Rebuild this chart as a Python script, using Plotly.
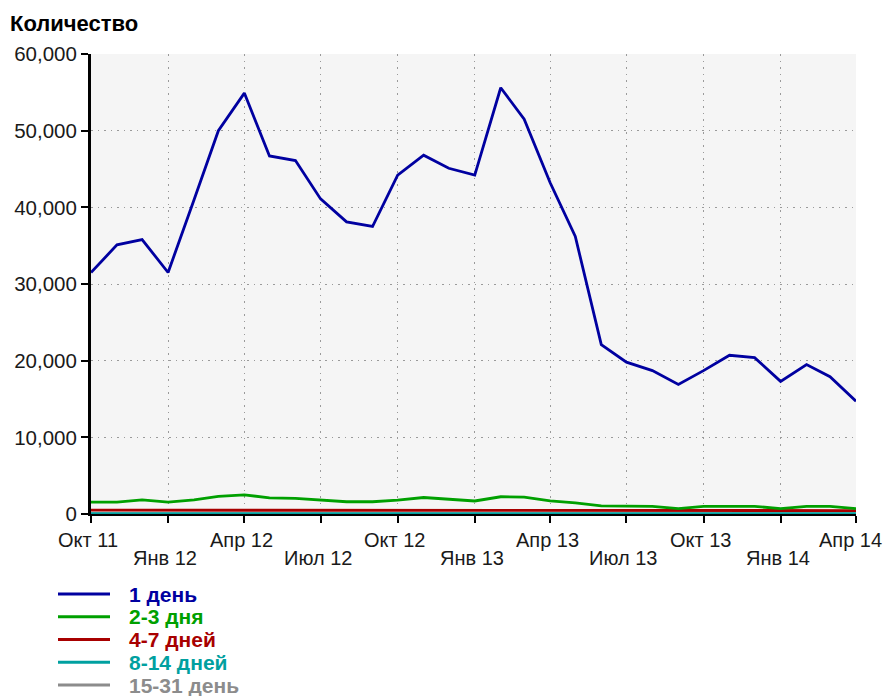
import plotly.graph_objects as go

# Monthly counts, October 2011 - April 2014
months = [
    "2011-10-01", "2011-11-01", "2011-12-01",
    "2012-01-01", "2012-02-01", "2012-03-01", "2012-04-01", "2012-05-01", "2012-06-01",
    "2012-07-01", "2012-08-01", "2012-09-01", "2012-10-01", "2012-11-01", "2012-12-01",
    "2013-01-01", "2013-02-01", "2013-03-01", "2013-04-01", "2013-05-01", "2013-06-01",
    "2013-07-01", "2013-08-01", "2013-09-01", "2013-10-01", "2013-11-01", "2013-12-01",
    "2014-01-01", "2014-02-01", "2014-03-01", "2014-04-01",
]

day_1 = [31500, 35100, 35800, 31500, 41000, 50000, 54900, 46700, 46100, 41100, 38100,
         37500, 44200, 46800, 45100, 44200, 55600, 51500, 43200, 36200, 22100, 19800,
         18700, 16900, 18700, 20700, 20400, 17300, 19500, 17900, 14700]
days_2_3 = [1550, 1550, 1850, 1550, 1850, 2300, 2500, 2100, 2050, 1850, 1600, 1600,
            1800, 2150, 1900, 1700, 2250, 2200, 1700, 1450, 1050, 1000, 1000, 700,
            1000, 1000, 1000, 700, 1000, 1000, 700]
days_4_7 = [500, 500, 500, 500, 500, 500, 500, 500, 500, 500, 500, 500, 500, 500, 500,
            500, 500, 500, 500, 480, 460, 450, 450, 450, 450, 450, 450, 450, 450, 450, 450]
days_8_14 = [40] * 31
days_15_31 = [15] * 31

series_names = ["1 день", "2-3 дня", "4-7 дней", "8-14 дней", "15-31 день"]
series_values = [day_1, days_2_3, days_4_7, days_8_14, days_15_31]
series_colors = ["#0000A0", "#00A000", "#A80000", "#00A0A0", "#8C8C8C"]

# Quarter ticks: labels alternate between two rows
quarter_ticks = ["2011-10-01", "2012-01-01", "2012-04-01", "2012-07-01", "2012-10-01",
                 "2013-01-01", "2013-04-01", "2013-07-01", "2013-10-01", "2014-01-01",
                 "2014-04-01"]
quarter_labels = ["Окт 11", "Янв 12", "Апр 12", "Июл 12", "Окт 12", "Янв 13",
                  "Апр 13", "Июл 13", "Окт 13", "Янв 14", "Апр 14"]

W, H = 885, 696
ML, MR, MT, MB = 91, 29, 54, 182
PW, PH = W - ML - MR, H - MT - MB

FONT = "Liberation Sans, Arial, sans-serif"

fig = go.Figure()
# faint series first so the main ones sit on top
order = [4, 3, 2, 1, 0]
for i in order:
    fig.add_trace(go.Scatter(
        x=months, y=series_values[i], name=series_names[i], mode="lines",
        line=dict(color=series_colors[i], width=2.8), showlegend=False,
    ))

annotations = []
# two-row quarter labels under the x axis; the last one is kept inside the page
last = len(quarter_ticks) - 1
for k, (tv, tl) in enumerate(zip(quarter_ticks, quarter_labels)):
    shift = -26 if k % 2 == 0 else -44
    if k == last:
        anchor, xs = "right", MR - 1
    else:
        anchor, xs = "center", -3
    annotations.append(dict(
        x=tv, xref="x", y=0, yref="paper", yshift=shift, xshift=xs, yanchor="middle",
        xanchor=anchor, text=tl, showarrow=False,
        font=dict(family=FONT, size=20, color="#1a1a1a"),
    ))

# legend below the chart
shapes = []
for i, (nm, col) in enumerate(zip(series_names, series_colors)):
    off = 80 + 22.75 * i
    yp = -off / PH
    shapes.append(dict(
        type="line", xref="paper", yref="paper",
        x0=(58 - ML) / PW, x1=(110 - ML) / PW, y0=yp, y1=yp,
        line=dict(color=col, width=3),
    ))
    annotations.append(dict(
        x=(127 - ML) / PW, xref="paper", y=yp, yref="paper",
        xanchor="left", yanchor="middle", text=f"<b>{nm}</b>", showarrow=False,
        font=dict(family=FONT, size=21, color=col),
    ))

fig.update_layout(
    width=W, height=H,
    margin=dict(l=ML, r=MR, t=MT, b=MB, pad=0),
    paper_bgcolor="white", plot_bgcolor="#F5F5F5",
    showlegend=False,
    title=dict(
        text="<b>Количество</b>", x=10 / W, xref="container", xanchor="left",
        y=1 - 23 / H, yref="container", yanchor="middle",
        font=dict(family=FONT, size=22, color="black"),
    ),
    xaxis=dict(
        type="date", range=[months[0], months[-1]],
        tickvals=quarter_ticks, showticklabels=False,
        ticks="outside", ticklen=7, tickwidth=2, tickcolor="black",
        showline=True, linewidth=2, linecolor="black",
        showgrid=True, gridcolor="#9a9a9a", gridwidth=1, griddash="1.5px,5px",
        zeroline=False,
    ),
    yaxis=dict(
        range=[0, 60000], dtick=10000, tick0=0, tickformat=",",
        ticks="outside", ticklen=7, tickwidth=2, tickcolor="black",
        showline=True, linewidth=3, linecolor="black",
        showgrid=True, gridcolor="#9a9a9a", gridwidth=1, griddash="1.5px,5px",
        zeroline=False,
        tickfont=dict(family=FONT, size=20.5, color="#1a1a1a"),
    ),
    annotations=annotations,
    shapes=shapes,
)

fig.write_html("out.html")
